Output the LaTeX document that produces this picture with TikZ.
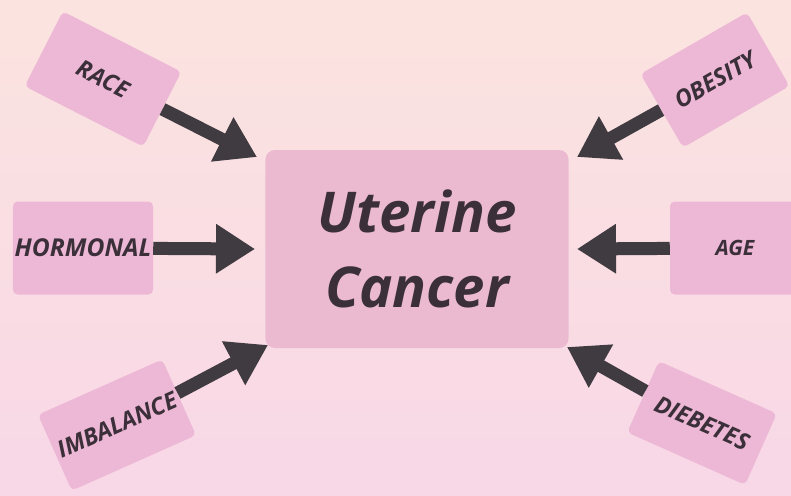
\documentclass[tikz,border=0pt]{standalone}
\usepackage{fontspec}
\setmainfont{Open Sans}
\usetikzlibrary{arrows.meta}
\definecolor{bgtop}{HTML}{FBE4DF}
\definecolor{bgbottom}{HTML}{F8D7E7}
\definecolor{boxpink}{HTML}{EDB8D5}
\definecolor{centerpink}{HTML}{EBBAD1}
\definecolor{inkdark}{HTML}{3B2F3A}
\definecolor{arrowgray}{HTML}{403B40}
\tikzset{
  factor/.style={fill=boxpink,rounded corners=4pt,inner sep=0pt,text=inkdark,font=\fontsize{20}{23}\selectfont\bfseries\itshape},
  push/.style={draw=arrowgray,line width=0.39cm,-{Triangle[length=1.17cm,width=1.41cm]}}
}
\begin{document}
\begin{tikzpicture}[x=0.03cm,y=-0.03cm]
\shade[top color=bgtop,bottom color=bgbottom] (0,0) rectangle (791,495);
\useasboundingbox (0,0) rectangle (791,495);
\node[fill=centerpink,rounded corners=8pt,minimum width=9.09cm,minimum height=5.94cm,align=center,text=inkdark,font=\fontsize{48}{64}\selectfont\bfseries\itshape] (cancer) at (417,249) {Uterine\\Cancer};
\node[factor,rotate=-27,minimum width=3.99cm,minimum height=2.52cm] (race) at (103,79) {RACE};
\node[factor,rotate=30,minimum width=3.69cm,minimum height=2.55cm] (obesity) at (715,80) {OBESITY};
\node[factor,minimum width=4.2cm,minimum height=2.79cm,font=\fontsize{21}{24}\selectfont\bfseries\itshape] (hormonal) at (83,248) {HORMONAL};
\node[factor,minimum width=3.9cm,minimum height=2.79cm,font=\fontsize{18}{21}\selectfont\bfseries\itshape] (age) at (735,248) {AGE};
\node[factor,rotate=24,minimum width=4.08cm,minimum height=2.49cm] (imbalance) at (117,425) {IMBALANCE};
\node[factor,rotate=-24,minimum width=3.87cm,minimum height=2.34cm] (diebetes) at (702,423) {DIEBETES};
\coordinate (raceTip) at (257,157);
\coordinate (obesityTip) at (577,157);
\coordinate (hormonalTip) at (255,249);
\coordinate (ageTip) at (577,249);
\coordinate (imbalanceTip) at (268,345);
\coordinate (diebetesTip) at (567,347);
\draw[push] (race) -- (raceTip);
\draw[push] (obesity) -- (obesityTip);
\draw[push] (hormonal) -- (hormonalTip);
\draw[push] (age) -- (ageTip);
\draw[push] (imbalance) -- (imbalanceTip);
\draw[push] (diebetes) -- (diebetesTip);
\end{tikzpicture}
\end{document}
